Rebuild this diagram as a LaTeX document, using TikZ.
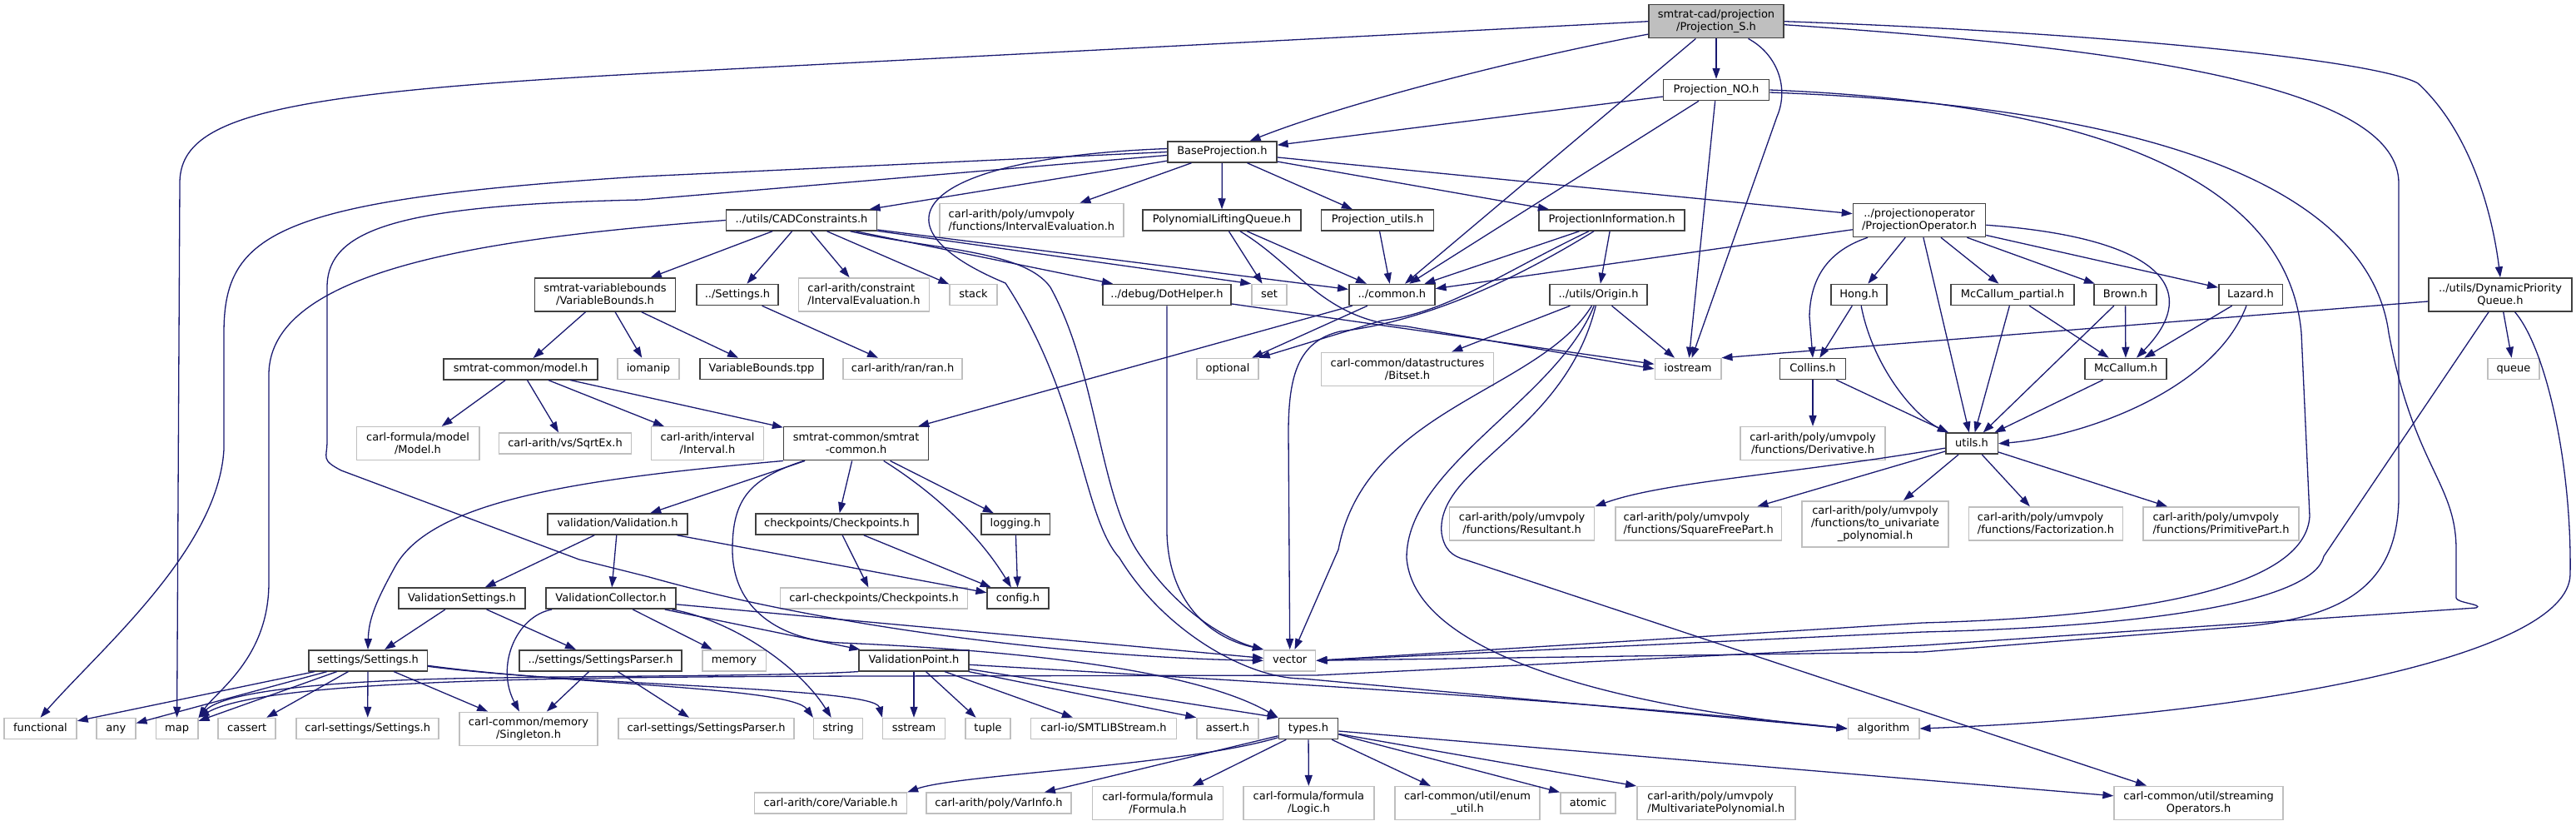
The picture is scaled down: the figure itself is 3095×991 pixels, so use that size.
\documentclass[tikz,border=0pt]{standalone}
\usepackage{fontspec}
\setmainfont{DejaVu Sans}
\usetikzlibrary{arrows.meta}
\definecolor{edgeblue}{RGB}{25,25,112}
\definecolor{hdrline}{RGB}{64,64,64}
\definecolor{sysline}{RGB}{191,191,191}
\definecolor{rootfill}{RGB}{191,191,191}
\begin{document}
\begin{tikzpicture}[x=1pt,y=-1pt,
  box/.style={inner sep=0pt,minimum height=25pt,line width=1.5pt,font=\fontsize{13}{15}\selectfont,text height=9.9pt,text depth=3pt},
  hdr/.style={box,draw=hdrline,fill=white},
  sys/.style={box,draw=sysline,fill=white},
  lines/.style={text height={},text depth={},align=center,minimum height=40pt},
  dep/.style={draw=edgeblue,line width=1.3pt,-{Triangle[length=13pt,width=9pt]}}]
\useasboundingbox (0,0) rectangle (3095,991);
\node[hdr,lines,fill=rootfill,minimum width=162pt] (root) at (2062,25.7) {smtrat-cad/projection\\/Projection\_S.h};
\node[hdr,minimum width=127pt] (pno) at (2062,108) {Projection\_NO.h};
\node[hdr,minimum width=131pt] (base) at (1468.4,182.5) {BaseProjection.h};
\node[hdr,minimum width=181pt] (cad) at (963,264.5) {../utils/CADConstraints.h};
\node[sys,lines,align=left,minimum width=221pt] (ievalpoly) at (1239.4,264.5) {carl-arith/poly/umvpoly\\/functions/IntervalEvaluation.h};
\node[hdr,minimum width=190pt] (plq) at (1468,264.5) {PolynomialLiftingQueue.h};
\node[hdr,minimum width=135pt] (putils) at (1655,264.5) {Projection\_utils.h};
\node[hdr,minimum width=175pt] (pinfo) at (1936.5,264.5) {ProjectionInformation.h};
\node[hdr,lines,minimum width=159pt] (pop) at (2306,264.5) {../projectionoperator\\/ProjectionOperator.h};
\node[hdr,lines,minimum width=169pt] (vbounds) at (727,354) {smtrat-variablebounds\\/VariableBounds.h};
\node[hdr,minimum width=98pt] (settingsrel) at (886,354) {../Settings.h};
\node[sys,lines,align=left,minimum width=157pt] (ievalcons) at (1038,354) {carl-arith/constraint\\/IntervalEvaluation.h};
\node[sys,minimum width=57pt] (stack) at (1169.5,354) {stack};
\node[hdr,minimum width=154pt] (dothelper) at (1402,354) {../debug/DotHelper.h};
\node[sys,minimum width=42pt] (set) at (1525,354) {set};
\node[hdr,minimum width=103pt] (common) at (1672.3,354) {../common.h};
\node[hdr,minimum width=117pt] (origin) at (1920.5,354) {../utils/Origin.h};
\node[hdr,minimum width=67pt] (hong) at (2233.6,354) {Hong.h};
\node[hdr,minimum width=148pt] (mcpartial) at (2418,354) {McCallum\_partial.h};
\node[hdr,minimum width=75pt] (brown) at (2553.5,354) {Brown.h};
\node[hdr,minimum width=76.5pt] (lazard) at (2704,354) {Lazard.h};
\node[hdr,lines,minimum width=172pt] (dpq) at (3004,354) {../utils/DynamicPriority\\Queue.h};
\node[hdr,minimum width=185pt] (model) at (625.6,443.3) {smtrat-common/model.h};
\node[sys,minimum width=74pt] (iomanip) at (779,443) {iomanip};
\node[hdr,minimum width=148pt] (vbtpp) at (915,443) {VariableBounds.tpp};
\node[sys,minimum width=143pt] (ran) at (1084.6,443) {carl-arith/ran/ran.h};
\node[sys,minimum width=74pt] (optional) at (1475,443) {optional};
\node[sys,lines,minimum width=207pt] (bitset) at (1691,443.3) {carl-common/datastructures\\/Bitset.h};
\node[sys,minimum width=79.5pt] (iostream) at (2028,443) {iostream};
\node[hdr,minimum width=78.6pt] (collins) at (2178,443) {Collins.h};
\node[hdr,minimum width=98pt] (mccallum) at (2554,443) {McCallum.h};
\node[sys,minimum width=62pt] (queue) at (3020,443) {queue};
\node[sys,lines,minimum width=147.5pt] (carlmodel) at (502,532.7) {carl-formula/model\\/Model.h};
\node[sys,minimum width=158.6pt] (sqrtex) at (679,532.7) {carl-arith/vs/SqrtEx.h};
\node[sys,lines,minimum width=135pt] (interval) at (850,532.7) {carl-arith/interval\\/Interval.h};
\node[hdr,lines,minimum width=174pt] (smtratcommon) at (1028.6,532.7) {smtrat-common/smtrat\\-common.h};
\node[sys,lines,minimum width=174pt] (derivative) at (2178,532.7) {carl-arith/poly/umvpoly\\/functions/Derivative.h};
\node[hdr,minimum width=62.5pt] (utils) at (2369,532.7) {utils.h};
\node[hdr,minimum width=168pt] (validation) at (742,629.5) {validation/Validation.h};
\node[hdr,minimum width=195pt] (checkpoints) at (1005.5,629.5) {checkpoints/Checkpoints.h};
\node[hdr,minimum width=82.5pt] (logging) at (1220,629.5) {logging.h};
\node[sys,lines,minimum width=174pt] (resultant) at (1828.6,629) {carl-arith/poly/umvpoly\\/functions/Resultant.h};
\node[sys,lines,align=left,minimum width=199.5pt] (sqfree) at (2040.7,629) {carl-arith/poly/umvpoly\\/functions/SquareFreePart.h};
\node[sys,lines,minimum width=176pt,minimum height=55pt] (touni) at (2253,629.3) {carl-arith/poly/umvpoly\\/functions/to\_univariate\\\_polynomial.h};
\node[sys,lines,align=left,minimum width=185pt] (factor) at (2458,629) {carl-arith/poly/umvpoly\\/functions/Factorization.h};
\node[sys,lines,align=left,minimum width=187pt] (primpart) at (2668.5,629) {carl-arith/poly/umvpoly\\/functions/PrimitivePart.h};
\node[hdr,minimum width=152pt] (vsettings) at (555,718.7) {ValidationSettings.h};
\node[hdr,minimum width=156pt] (vcollector) at (734,718.7) {ValidationCollector.h};
\node[sys,minimum width=225pt] (carlcheck) at (1050,718.7) {carl-checkpoints/Checkpoints.h};
\node[hdr,minimum width=73.6pt] (config) at (1223,718.7) {config.h};
\node[hdr,minimum width=142.5pt] (settings) at (442,793.3) {settings/Settings.h};
\node[hdr,minimum width=195pt] (sparser) at (721.6,793.3) {../settings/SettingsParser.h};
\node[sys,minimum width=76.5pt] (memory) at (882,793.3) {memory};
\node[hdr,minimum width=132pt] (vpoint) at (1098,793.3) {ValidationPoint.h};
\node[sys,minimum width=62pt] (vector) at (1549.7,793.3) {vector};
\node[sys,minimum width=87pt] (functional) at (48.5,875) {functional};
\node[sys,minimum width=46.7pt] (any) at (139.4,875) {any};
\node[sys,minimum width=50.3pt] (map) at (212.6,875) {map};
\node[sys,minimum width=69pt] (cassert) at (296.7,875) {cassert};
\node[sys,minimum width=171pt] (carlsettings) at (441.7,875) {carl-settings/Settings.h};
\node[sys,lines,minimum width=166pt] (singleton) at (635,875.3) {carl-common/memory\\/Singleton.h};
\node[sys,minimum width=211pt] (carlsparser) at (848.6,875) {carl-settings/SettingsParser.h};
\node[sys,minimum width=58.6pt] (string) at (1007,875) {string};
\node[sys,minimum width=74.6pt] (sstream) at (1098,875) {sstream};
\node[sys,minimum width=54pt] (tuple) at (1187,875) {tuple};
\node[sys,minimum width=174.6pt] (smtlib) at (1326,875) {carl-io/SMTLIBStream.h};
\node[sys,minimum width=74pt] (asserth) at (1475,875) {assert.h};
\node[hdr,minimum width=71.4pt] (types) at (1572,875) {types.h};
\node[sys,minimum width=85.5pt] (algo) at (2263,875) {algorithm};
\node[sys,minimum width=182.7pt] (variable) at (998,964.7) {carl-arith/core/Variable.h};
\node[sys,minimum width=174pt] (varinfo) at (1200,964.7) {carl-arith/poly/VarInfo.h};
\node[sys,lines,minimum width=156.7pt] (formula) at (1391,964.7) {carl-formula/formula\\/Formula.h};
\node[sys,lines,minimum width=157pt] (logic) at (1572.4,964.7) {carl-formula/formula\\/Logic.h};
\node[sys,lines,minimum width=174pt] (enumutil) at (1763,964.7) {carl-common/util/enum\\\_util.h};
\node[sys,minimum width=66.4pt] (atomic) at (1908,964.7) {atomic};
\node[sys,lines,align=left,minimum width=190pt] (multipoly) at (2061.8,964.7) {carl-arith/poly/umvpoly\\/MultivariatePolynomial.h};
\node[sys,lines,minimum width=203pt] (stream) at (2641.6,964.3) {carl-common/util/streaming\\Operators.h};
\draw[dep] (root.west) -- (780,88) .. controls (330,112) and (216,140) .. (216,220) -- (map.north);
\draw[dep] (root) .. controls (1800,75) and (1600,130) .. (base);
\draw[dep] (root) -- (pno);
\draw[dep] (root) -- (common);
\draw[dep] (root) .. controls (2135,65) and (2150,105) .. (2135,140) -- (iostream);
\draw[dep] (root.east) .. controls (2500,38) and (2850,70) .. (2905,100) .. controls (2970,160) and (2995,260) .. (dpq.north);
\draw[dep] ([yshift=-4pt]root.east) .. controls (2600,60) and (2882,110) .. (2882,220) -- (2882,600) .. controls (2880,700) and (2820,740) .. (2700,752) -- (2310,783) -- (vector.east);
\draw[dep] (pno) -- (base);
\draw[dep] (pno) -- (common);
\draw[dep] (pno) -- (iostream);
\draw[dep] (pno.east) .. controls (2550,125) and (2750,230) .. (2765,400) -- (2775,620) .. controls (2770,700) and (2600,740) .. (2310,748) -- (vector.east);
\draw[dep] ([yshift=-3pt]pno.east) .. controls (2650,130) and (2850,250) .. (2870,400) .. controls (2900,560) and (2951,580) .. (2951,660) -- (2951,718) .. controls (2951,724) and (2985,726) .. (2975,730) -- (2310,775) -- (1581,811) -- (1040,812) .. controls (700,813) and (320,815) .. (map.north east);
\draw[dep] ([yshift=-8pt]dpq.west) -- (iostream.north east);
\draw[dep] (dpq) -- (queue);
\draw[dep] (dpq) -- (2792,668) .. controls (2780,720) and (2600,752) .. (2310,759) -- (vector.east);
\draw[dep] (dpq) .. controls (3060,420) and (3090,560) .. (3088,690) .. controls (3086,790) and (2700,860) .. (algo.east);
\draw[dep] (base) -- (cad);
\draw[dep] (base) -- (ievalpoly);
\draw[dep] (base) -- (plq);
\draw[dep] (base) -- (putils);
\draw[dep] (base) -- (pinfo);
\draw[dep] (base) -- (pop);
\draw[dep] (base.west) -- (770,212) .. controls (330,240) and (269,280) .. (269,400) -- (269,540) .. controls (262,660) and (120,780) .. (functional.north);
\draw[dep] ([yshift=-4pt]base.west) -- (770,240) .. controls (480,246) and (393,275) .. (393,345) -- (393,530) .. controls (393,550) and (385,552) .. (410,565) -- (696,672) -- (780,693) .. controls (1000,755) and (1300,790) .. (vector.west);
\draw[dep] ([yshift=4pt]base.west) .. controls (1100,190) and (1040,270) .. (1208,340) .. controls (1300,480) and (1300,620) .. (1345,670) .. controls (1400,760) and (1500,815) .. (1565,815) -- (algo.west);
\draw[dep] (cad) -- (vbounds);
\draw[dep] (cad) -- (settingsrel);
\draw[dep] (cad) -- (ievalcons);
\draw[dep] (cad) -- (stack);
\draw[dep] (cad) -- (dothelper);
\draw[dep] (cad) -- (set.north west);
\draw[dep] (cad) -- (common);
\draw[dep] (cad.west) .. controls (600,285) and (323,320) .. (323,450) -- (323,700) .. controls (323,790) and (260,830) .. (map.north east);
\draw[dep] (cad) .. controls (1120,300) and (1230,300) .. (1262,345) .. controls (1320,450) and (1320,600) .. (1372,670) .. controls (1420,740) and (1480,770) .. (vector.north west);
\draw[dep] (plq) -- (set);
\draw[dep] (plq) -- (common);
\draw[dep] (plq) .. controls (1560,320) and (1590,385) .. (1690,392) -- (iostream.west);
\draw[dep] (putils) -- (common);
\draw[dep] (pinfo) -- (common);
\draw[dep] (pinfo) -- (origin);
\draw[dep] (pinfo) .. controls (1800,330) and (1740,375) .. (1660,385) -- (optional.north east);
\draw[dep] (pinfo) .. controls (1830,330) and (1720,385) .. (1610,398) .. controls (1560,410) and (1548,450) .. (1548,520) -- (vector.north);
\draw[dep] (pop) -- (common);
\draw[dep] (pop) -- (hong);
\draw[dep] (pop) .. controls (2200,300) and (2175,330) .. (2174,380) -- (collins.north);
\draw[dep] (pop) -- (utils);
\draw[dep] (pop) -- (mcpartial);
\draw[dep] (pop) -- (brown);
\draw[dep] (pop) -- (lazard);
\draw[dep] (pop) .. controls (2590,285) and (2650,345) .. (mccallum);
\draw[dep] (hong) -- (collins);
\draw[dep] (hong) .. controls (2250,440) and (2300,500) .. (utils);
\draw[dep] (collins) -- (derivative);
\draw[dep] (collins) -- (utils);
\draw[dep] (mcpartial) -- (mccallum);
\draw[dep] (mcpartial) -- (utils);
\draw[dep] (brown) -- (mccallum);
\draw[dep] (brown) -- (utils);
\draw[dep] (lazard) -- (mccallum);
\draw[dep] (lazard) .. controls (2660,470) and (2500,525) .. (utils.east);
\draw[dep] (mccallum) -- (utils);
\draw[dep] (utils) .. controls (2150,570) and (2000,578) .. (resultant.north east);
\draw[dep] (utils) -- (sqfree);
\draw[dep] (utils) -- (touni);
\draw[dep] (utils) -- (factor);
\draw[dep] (utils) -- (primpart);
\draw[dep] (origin) -- (bitset);
\draw[dep] (origin) -- (iostream);
\draw[dep] (origin) .. controls (1850,470) and (1640,490) .. (1608,660) -- (vector);
\draw[dep] (origin) .. controls (1870,480) and (1690,560) .. (1690,670) .. controls (1700,800) and (2000,855) .. (algo.west);
\draw[dep] (origin) .. controls (1880,520) and (1725,560) .. (1732,640) .. controls (1735,660) and (1745,668) .. (1760,672) -- (stream);
\draw[dep] (dothelper) -- (iostream);
\draw[dep] (dothelper.south) -- (1402,640) .. controls (1404,720) and (1450,765) .. (vector.north west);
\draw[dep] (common) -- (smtratcommon);
\draw[dep] (common) -- (optional);
\draw[dep] (vbounds) -- (model);
\draw[dep] (vbounds) -- (iomanip);
\draw[dep] (vbounds) -- (vbtpp);
\draw[dep] (settingsrel) -- (ran);
\draw[dep] (model) -- (carlmodel);
\draw[dep] (model) -- (sqrtex);
\draw[dep] (model) -- (interval);
\draw[dep] (model) -- (smtratcommon);
\draw[dep] (smtratcommon) -- (validation);
\draw[dep] (smtratcommon) -- (checkpoints);
\draw[dep] (smtratcommon) -- (logging);
\draw[dep] (smtratcommon) .. controls (1120,590) and (1175,640) .. (config);
\draw[dep] (smtratcommon.south west) .. controls (700,575) and (520,600) .. (475,680) .. controls (450,725) and (443,745) .. (settings.north);
\draw[dep] (smtratcommon) .. controls (900,575) and (880,600) .. (880,660) .. controls (880,740) and (950,770) .. (1010,772) .. controls (1150,778) and (1420,795) .. (types.north west);
\draw[dep] (validation) -- (vsettings);
\draw[dep] (validation) -- (vcollector);
\draw[dep] (validation) -- (config);
\draw[dep] (checkpoints) -- (carlcheck);
\draw[dep] (checkpoints) -- (config);
\draw[dep] (logging) -- (config);
\draw[dep] (vsettings) -- (settings);
\draw[dep] (vsettings) -- (sparser);
\draw[dep] (vcollector) .. controls (620,740) and (595,800) .. (singleton);
\draw[dep] (vcollector) -- (memory);
\draw[dep] (vcollector) -- (vpoint);
\draw[dep] (vcollector) .. controls (880,745) and (960,800) .. (string);
\draw[dep] (vcollector) -- (vector);
\draw[dep] (settings) -- (functional);
\draw[dep] (settings) -- (any);
\draw[dep] (settings) -- (map);
\draw[dep] (settings) -- (cassert);
\draw[dep] (settings) -- (carlsettings);
\draw[dep] (settings) -- (singleton);
\draw[dep] ([yshift=-6pt]settings.east) .. controls (680,822) and (950,825) .. (string.north west);
\draw[dep] ([yshift=-7pt]settings.east) .. controls (700,824) and (1050,825) .. (sstream.north west);
\draw[dep] (sparser) -- (singleton);
\draw[dep] (sparser) -- (carlsparser);
\draw[dep] (vpoint.south west) .. controls (950,812) and (700,812) .. (600,814) .. controls (400,816) and (270,830) .. (map.north east);
\draw[dep] (vpoint) -- (sstream);
\draw[dep] (vpoint) -- (tuple);
\draw[dep] (vpoint) -- (smtlib);
\draw[dep] (vpoint) -- (asserth.north west);
\draw[dep] (vpoint) -- (types.north west);
\draw[dep] ([yshift=-5pt]vpoint.east) .. controls (1400,812) and (1900,840) .. (algo.west);
\draw[dep] (types) .. controls (1420,920) and (1150,930) .. (variable.north east);
\draw[dep] (types) -- (varinfo);
\draw[dep] (types) -- (formula);
\draw[dep] (types) -- (logic);
\draw[dep] (types) -- (enumutil);
\draw[dep] ([yshift=-7pt]types.east) -- (atomic.north west);
\draw[dep] (types) -- (multipoly.north west);
\draw[dep] (types) -- (stream);
\end{tikzpicture}
\end{document}
